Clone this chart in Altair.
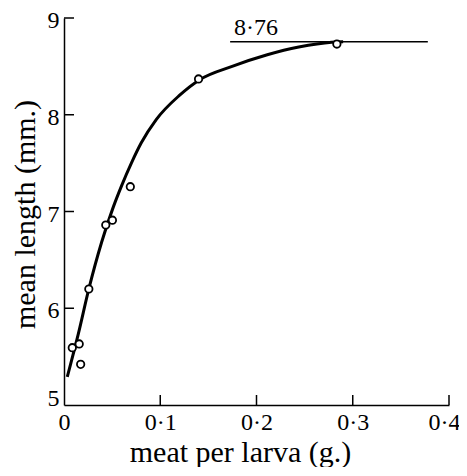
import altair as alt
import pandas as pd

# observed points (meat per larva g., mean length mm)
point_x = [0.0086, 0.0158, 0.0173, 0.0258, 0.0434, 0.0503, 0.0689, 0.1398, 0.2835]
point_y = [5.592, 5.631, 5.420, 6.199, 6.860, 6.910, 7.256, 8.370, 8.731]

# fitted curve
curve_x = [0.0034, 0.0150, 0.0258, 0.0390, 0.0510, 0.0600, 0.0700, 0.0803, 0.0958,
           0.1199, 0.1406, 0.1747, 0.2112, 0.2439, 0.2780, 0.2900]
curve_y = [5.29, 5.74, 6.20, 6.68, 7.04, 7.27, 7.50, 7.71, 7.95,
           8.20, 8.36, 8.50, 8.62, 8.70, 8.75, 8.755]

# asymptote line and its label
asym_x = [0.1726, 0.378]
asym_y = [8.755, 8.755]
asym_label = ["8·76"]
asym_label_x = [0.1767]
asym_label_y = [8.824]

x_axis_values = [0, 0.1, 0.2, 0.3, 0.4]
y_axis_values = [5, 6, 7, 8, 9]
x_tick_marks = [0.1, 0.2, 0.3, 0.4]
y_tick_marks = [6, 7, 8, 9]

SERIF = "Liberation Serif"

xs = alt.Scale(domain=[0, 0.4], nice=False, zero=False)
ys = alt.Scale(domain=[5, 9], nice=False, zero=False)

x_axis = alt.Axis(
    values=x_axis_values,
    labelExpr="datum.value == 0 ? '0' : replace(format(datum.value, '.1f'), '.', '·')",
    title="meat per larva (g.)",
    ticks=False, grid=False, domain=True,
    domainColor="black", domainWidth=1.5,
    labelFont=SERIF, labelFontSize=24, labelColor="black",
    labelPadding=5, labelFlush=False, labelOverlap=False, labelBound=False,
    labelOffset={"condition": {"test": "datum.value > 0.35", "value": -5}, "value": 0},
    titleFont=SERIF, titleFontSize=30, titleFontWeight="normal",
    titleColor="black", titleX=176, titleY=56, titleBaseline="alphabetic",
    titleAlign="center",
)
y_axis = alt.Axis(
    values=y_axis_values, format="d",
    title="mean length (mm.)",
    ticks=False, grid=False, domain=True,
    domainColor="black", domainWidth=1.5,
    labelFont=SERIF, labelFontSize=24, labelColor="black",
    labelPadding=5, labelFlush=False, labelOverlap=False, labelBound=False,
    labelOffset={"condition": {"test": "datum.value == 5", "value": -7}, "value": 2.5},
    titleFont=SERIF, titleFontSize=30, titleFontWeight="normal",
    titleColor="black", titleX=-30, titleY=196, titleBaseline="alphabetic",
    titleAlign="center", titleAngle=270,
)

X = alt.X("x:Q", scale=xs, axis=x_axis)
Y = alt.Y("y:Q", scale=ys, axis=y_axis)

points_df = pd.DataFrame({"x": point_x, "y": point_y})
curve_df = pd.DataFrame({"x": curve_x, "y": curve_y})
asym_df = pd.DataFrame({"x": asym_x, "y": asym_y})
label_df = pd.DataFrame({"x": asym_label_x, "y": asym_label_y, "t": asym_label})
xt_df = pd.DataFrame({"x": x_tick_marks, "y": [5] * len(x_tick_marks)})
yt_df = pd.DataFrame({"x": [0] * len(y_tick_marks), "y": y_tick_marks})

curve = alt.Chart(curve_df).mark_line(
    interpolate="monotone", strokeWidth=3, color="black"
).encode(x=X, y=Y, order=alt.Order("x:Q"))

asym = alt.Chart(asym_df).mark_line(strokeWidth=1.5, color="black").encode(x=X, y=Y)

pts = alt.Chart(points_df).mark_point(
    shape="circle", size=55, filled=False, fill="white", fillOpacity=1,
    stroke="black", strokeWidth=1.8, opacity=1
).encode(x=X, y=Y)

label = alt.Chart(label_df).mark_text(
    align="left", baseline="alphabetic", font=SERIF, fontSize=24, color="black"
).encode(x=X, y=Y, text="t:N")

xt = alt.Chart(xt_df).mark_tick(
    orient="vertical", size=10, thickness=1.5, yOffset=-5, color="black", opacity=1
).encode(x=X, y=Y)

yt = alt.Chart(yt_df).mark_tick(
    orient="horizontal", size=10, thickness=1.5, xOffset=5, color="black", opacity=1
).encode(x=X, y=Y)

chart = alt.layer(asym, curve, pts, label, xt, yt).properties(
    width=385, height=387,
    autosize=alt.AutoSizeParams(type="none"),
    padding={"left": 56, "top": 10, "right": 10, "bottom": 62},
    background="white",
).configure_view(stroke=None)

chart.save("out.html", embed_options={"renderer": "svg", "actions": False})
